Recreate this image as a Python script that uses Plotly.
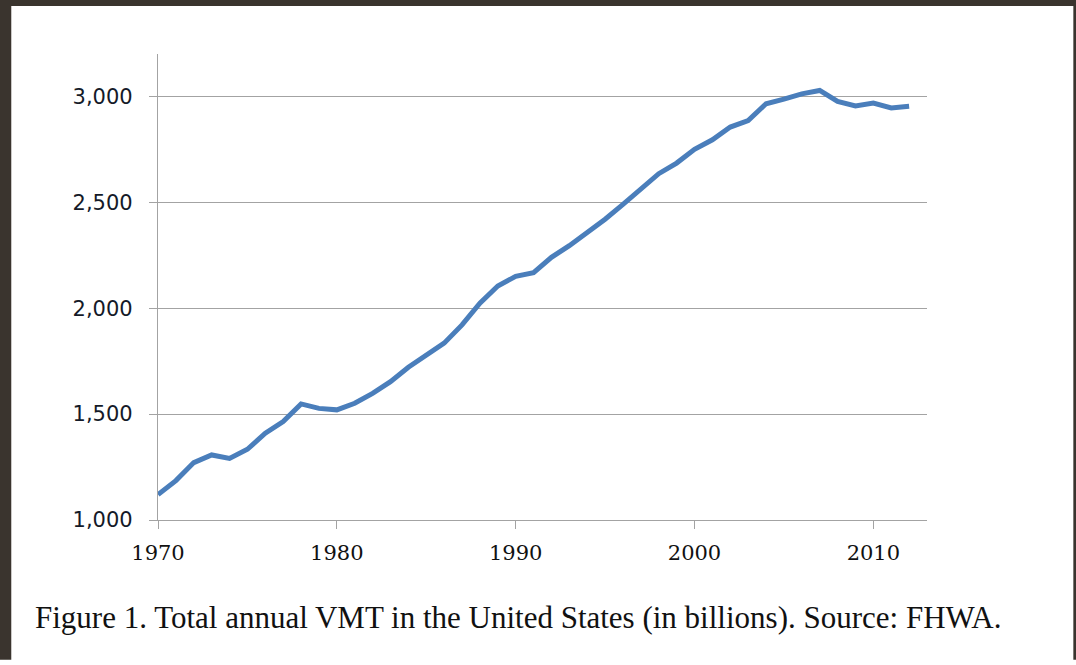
import plotly.graph_objects as go

# Total annual VMT (billions), FHWA
years = list(range(1970, 2013))
vmt = [1120, 1186, 1271, 1307, 1291, 1334, 1410, 1465, 1548, 1527,
       1520, 1551, 1598, 1653, 1721, 1775, 1835, 1921, 2024, 2105,
       2150, 2168, 2240, 2295, 2355, 2420, 2490, 2565, 2635, 2685,
       2750, 2795, 2855, 2886, 2965, 2987, 3012, 3028, 2976, 2955,
       2968, 2945, 2953]

y_ticks = [1000, 1500, 2000, 2500, 3000]
y_labels = ["1,000", "1,500", "2,000", "2,500", "3,000"]
x_ticks = [1970, 1980, 1990, 2000, 2010]

caption = "Figure 1. Total annual VMT in the United States (in billions). Source: FHWA."

fig = go.Figure()
fig.add_trace(go.Scatter(x=years, y=vmt, mode="lines",
                         line=dict(color="#4a7ebb", width=5),
                         hoverinfo="skip", showlegend=False))

grid = "#a3a3a3"
fig.update_xaxes(range=[1970, 2013], tickvals=x_ticks, ticks="outside", ticklen=8,
                 tickcolor=grid, tickwidth=1.3, showgrid=False, zeroline=False,
                 showline=True, linecolor=grid, linewidth=1.3,
                 tickfont=dict(family="DejaVu Serif", size=21, color="#111"),
                 ticklabelstandoff=6)
fig.update_yaxes(range=[1000, 3200], tickvals=y_ticks, ticktext=y_labels,
                 ticks="outside", ticklen=8, tickcolor=grid, tickwidth=1.3,
                 showgrid=True, gridcolor=grid, gridwidth=1.3, zeroline=False,
                 showline=True, linecolor=grid, linewidth=1.3,
                 tickfont=dict(family="DejaVu Sans", size=21, color="#141a28"),
                 ticklabelstandoff=12)

# dark frame of the screenshot
frame = "#3a342e"
fig.add_shape(type="rect", xref="paper", yref="paper", x0=-0.21, x1=-0.1908, y0=-0.3, y1=1.2,
              fillcolor=frame, line_width=0, layer="above")
fig.add_shape(type="rect", xref="paper", yref="paper", x0=-0.21, x1=1.2, y0=1.103, y1=1.2,
              fillcolor=frame, line_width=0, layer="above")
fig.add_shape(type="rect", xref="paper", yref="paper", x0=1.1903, x1=1.2, y0=-0.3, y1=1.2,
              fillcolor=frame, line_width=0, layer="above")

fig.add_annotation(text=caption, xref="paper", yref="paper", x=-0.1622, y=-0.2082,
                   xanchor="left", yanchor="middle", showarrow=False,
                   font=dict(family="Liberation Serif", size=31, color="#111"))

fig.update_layout(width=1076, height=665, plot_bgcolor="white", paper_bgcolor="white",
                  margin=dict(l=158, r=149, t=54, b=145))

fig.write_html("out.html", config={"displayModeBar": False},
               post_script="document.body.style.margin='0';")
